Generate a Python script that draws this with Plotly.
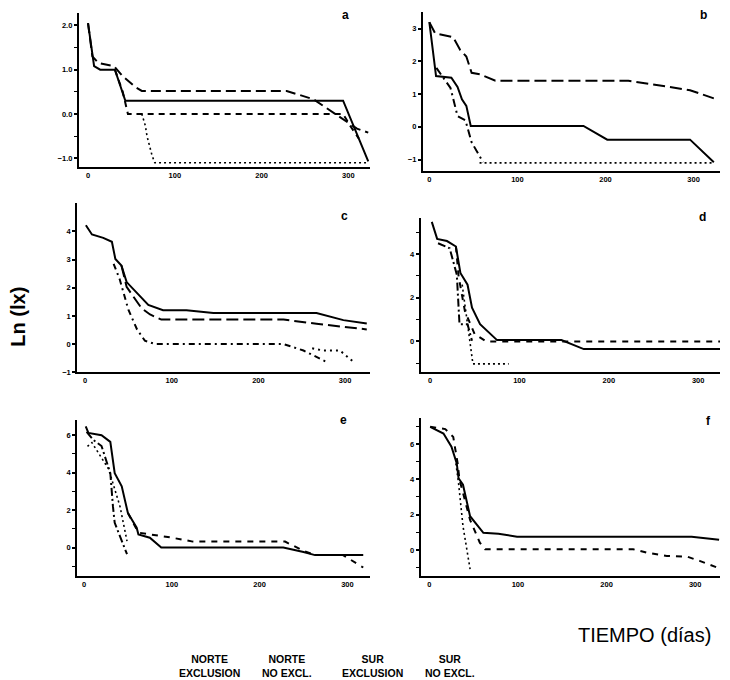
import plotly.graph_objects as go

W, H = 730, 680

# ---------------- survival curves: days vs Ln(lx) ----------------
# series keys: ne = NORTE EXCLUSION, nn = NORTE NO EXCL., se = SUR EXCLUSION, sn = SUR NO EXCL.

# panel a
a_ne_x = [0, 7, 14, 31, 43, 294, 323]
a_ne_y = [2.05, 1.08, 1.0, 1.0, 0.3, 0.3, -1.07]
a_nn_x = [0, 5, 12, 30, 40, 55, 62, 229, 260, 310, 323]
a_nn_y = [2.05, 1.3, 1.15, 1.08, 0.85, 0.6, 0.52, 0.52, 0.33, -0.33, -0.42]
a_se_x = [31, 40, 46, 294, 302, 312]
a_se_y = [1.0, 0.5, 0.0, 0.0, -0.26, -0.55]
a_sn_x = [56, 62, 66, 68, 74, 77, 323]
a_sn_y = [0.0, 0.0, -0.26, -0.5, -0.95, -1.1, -1.1]

# panel b
b_ne_x = [0, 7.6, 25, 32, 37, 42, 47, 175, 202, 296, 323]
b_ne_y = [3.2, 1.55, 1.5, 1.22, 0.84, 0.64, 0.03, 0.03, -0.39, -0.39, -1.08]
b_nn_x = [0, 6.5, 27, 35, 42, 48, 58, 75, 226, 270, 296, 323]
b_nn_y = [3.2, 2.86, 2.74, 2.35, 2.15, 1.65, 1.6, 1.41, 1.41, 1.22, 1.12, 0.87]
b_se_x = [8, 24, 32, 41, 48, 61]
b_se_y = [1.8, 1.19, 0.33, 0.2, -0.47, -1.08]
b_sn_x = [57, 323]
b_sn_y = [-1.1, -1.1]

# panel c
c_ne_x = [1, 8, 21, 31, 35, 42, 48, 60, 73, 90, 117, 148, 267, 298, 325]
c_ne_y = [4.22, 3.89, 3.77, 3.63, 3.02, 2.79, 2.2, 1.8, 1.39, 1.2, 1.2, 1.1, 1.1, 0.85, 0.73]
c_nn_x = [42, 48, 65, 75, 88, 229, 267, 325]
c_nn_y = [2.79, 2.03, 1.28, 1.05, 0.87, 0.87, 0.72, 0.52]
c_se_x = [33, 40, 50, 60, 69, 81, 229, 252, 279]
c_se_y = [2.85, 2.3, 1.22, 0.52, 0.12, 0.0, 0.0, -0.23, -0.64]
c_sn_x = [262, 275, 294, 310]
c_sn_y = [-0.15, -0.23, -0.23, -0.64]

# panel d
d_ne_x = [2, 8, 19, 29, 34, 42, 47, 56, 75, 147, 172, 325]
d_ne_y = [5.48, 4.7, 4.6, 4.35, 3.14, 2.6, 1.55, 0.79, 0.06, 0.06, -0.35, -0.35]
d_nn_x = [29, 32, 39, 50, 63, 325]
d_nn_y = [4.35, 2.98, 1.4, 0.33, 0.0, 0.0]
d_se_x = [9, 22, 30, 33, 42, 47]
d_se_y = [4.5, 4.27, 3.06, 0.79, 0.79, 0.03]
d_sn_x = [36, 41, 45, 48, 88]
d_sn_y = [2.6, 1.2, -0.12, -1.03, -1.03]

# panel e
e_ne_x = [2, 5, 20, 30, 35, 43, 50, 60, 62, 75, 88, 227, 250, 263, 318]
e_ne_y = [6.47, 6.12, 6.0, 5.64, 3.97, 3.27, 1.85, 1.06, 0.7, 0.53, 0.0, 0.0, -0.23, -0.4, -0.4]
e_nn_x = [50, 62, 87, 98, 124, 229, 250, 263, 295, 318]
e_nn_y = [1.85, 0.8, 0.62, 0.55, 0.32, 0.32, -0.17, -0.4, -0.4, -1.06]
e_se_x = [3, 11, 20, 30, 33, 35, 49]
e_se_y = [6.17, 5.73, 5.42, 3.97, 2.2, 1.32, -0.35]
e_sn_x = [4, 9, 28, 36, 41, 49]
e_sn_y = [5.4, 5.6, 4.2, 3.0, 2.2, 0.35]

# panel f
f_ne_x = [1, 16, 25, 31, 33, 38, 46, 61, 78, 99, 296, 327]
f_ne_y = [6.97, 6.59, 5.84, 4.9, 4.06, 3.69, 1.91, 0.97, 0.92, 0.75, 0.75, 0.57]
f_nn_x = [1, 18, 27, 32, 34, 46, 57, 63, 230, 245, 268, 291, 305, 325]
f_nn_y = [6.97, 6.84, 6.4, 4.9, 4.0, 1.7, 0.41, 0.04, 0.04, -0.15, -0.34, -0.38, -0.62, -1.0]
f_sn_x = [30, 33, 38, 46]
f_sn_y = [4.9, 3.78, 1.35, -1.08]

x_tick_vals = [0, 100, 200, 300]
panel_letters = ["a", "b", "c", "d", "e", "f"]
legend_labels = ["NORTE<br>EXCLUSION", "NORTE<br>NO EXCL.", "SUR<br>EXCLUSION", "SUR<br>NO EXCL."]
y_title = "Ln (lx)"
x_title = "TIEMPO (días)"

# ---------------- layout of the six panels (pixel boxes) ----------------
# left, right, top, bottom in page pixels; x range, y range, y tick step, y minor step,
# tick format, and where the panel letter sits (page pixels)
boxes = {
    "a": dict(px=(79, 370, 13, 168), xr=(-10.4, 325), yr=(-1.19, 2.28), dt=1, mdt=0.5, fmt=".1f", lab=(345, 15)),
    "b": dict(px=(423, 720, 11.7, 172), xr=(-7.2, 330), yr=(-1.34, 3.52), dt=1, mdt=None, fmt="d", lab=(703, 15)),
    "c": dict(px=(77.3, 370, 205, 375), xr=(-8.9, 328.7), yr=(-1.0, 4.99), dt=1, mdt=None, fmt="d", lab=(344, 218)),
    "d": dict(px=(420.7, 720, 219.3, 374.3), xr=(-10.4, 324.4), yr=(-1.38, 5.67), dt=2, mdt=1, fmt="d", lab=(702, 219)),
    "e": dict(px=(77.3, 370, 422.7, 580), xr=(-7.6, 325.7), yr=(-1.5, 6.83), dt=2, mdt=1, fmt="d", lab=(343, 423)),
    "f": dict(px=(420.7, 720, 420.7, 580), xr=(-9.7, 328), yr=(-1.46, 7.49), dt=2, mdt=1, fmt="d", lab=(708, 424)),
}

series = {
    "a": [(a_ne_x, a_ne_y, "solid"), (a_nn_x, a_nn_y, "10px,5px"),
          (a_se_x, a_se_y, "6px,5px"), (a_sn_x, a_sn_y, "2px,3px")],
    "b": [(b_ne_x, b_ne_y, "solid"), (b_nn_x, b_nn_y, "12px,5px"),
          (b_se_x, b_se_y, "8px,4px,2px,4px"), (b_sn_x, b_sn_y, "2px,3px")],
    "c": [(c_ne_x, c_ne_y, "solid"), (c_nn_x, c_nn_y, "12px,5px"),
          (c_se_x, c_se_y, "6px,4px,2px,4px"), (c_sn_x, c_sn_y, "2px,4px")],
    "d": [(d_ne_x, d_ne_y, "solid"), (d_nn_x, d_nn_y, "6px,6px"),
          (d_se_x, d_se_y, "8px,3px,2px,3px"), (d_sn_x, d_sn_y, "2px,3px")],
    "e": [(e_ne_x, e_ne_y, "solid"), (e_nn_x, e_nn_y, "6px,6px"),
          (e_se_x, e_se_y, "8px,3px,2px,3px"), (e_sn_x, e_sn_y, "2px,3px")],
    "f": [(f_ne_x, f_ne_y, "solid"), (f_nn_x, f_nn_y, "6px,6px"),
          (f_sn_x, f_sn_y, "2px,3px")],
}

FONT = "Liberation Sans, Arial, sans-serif"

fig = go.Figure()
layout = dict(
    width=W, height=H,
    margin=dict(l=0, r=0, t=0, b=0),
    paper_bgcolor="white", plot_bgcolor="rgba(0,0,0,0)",
    showlegend=False,
    font=dict(family=FONT, color="black"),
)

tick_font = dict(family=FONT, size=7.5, color="black", weight="bold")
annotations = []

for i, key in enumerate(panel_letters):
    n = "" if i == 0 else str(i + 1)
    b = boxes[key]
    l, r, t, btm = b["px"]
    xa = dict(
        domain=[l / W, r / W], range=list(b["xr"]), anchor="y" + n,
        showline=True, linecolor="black", linewidth=2.2, showgrid=False, zeroline=False,
        tickmode="array", tickvals=x_tick_vals, ticks="", tickfont=tick_font,
    )
    ya = dict(
        domain=[1 - btm / H, 1 - t / H], range=list(b["yr"]), anchor="x" + n,
        showline=True, linecolor="black", linewidth=2.2, showgrid=False, zeroline=False,
        tickmode="linear", tick0=0, dtick=b["dt"], tickformat=b["fmt"],
        ticks="outside", ticklen=3, tickwidth=1.5, tickcolor="black", tickfont=tick_font,
    )
    if b["mdt"]:
        ya["minor"] = dict(dtick=b["mdt"], tick0=0, ticks="outside", ticklen=3,
                           tickwidth=1.2, tickcolor="black")
    layout["xaxis" + n] = xa
    layout["yaxis" + n] = ya

    for xs, ys, dash in series[key]:
        fig.add_trace(go.Scatter(
            x=xs, y=ys, mode="lines", xaxis="x" + n, yaxis="y" + n,
            line=dict(color="black", width=2 if dash != "2px,3px" else 1.6, dash=dash),
            hoverinfo="skip",
        ))

    lx, ly = b["lab"]
    annotations.append(dict(
        text=key, xref="paper", yref="paper", x=lx / W, y=1 - ly / H,
        xanchor="center", yanchor="middle", showarrow=False,
        font=dict(size=12, weight="bold", color="black", family=FONT),
    ))

# axis titles
annotations.append(dict(
    text=y_title, xref="paper", yref="paper", x=18 / W, y=1 - 319 / H,
    textangle=-90, showarrow=False, xanchor="center", yanchor="middle",
    font=dict(size=20, weight="bold", color="black", family=FONT),
))
annotations.append(dict(
    text=x_title, xref="paper", yref="paper", x=713 / W, y=1 - 640 / H,
    showarrow=False, xanchor="right", yanchor="middle",
    font=dict(size=20, color="black", family=FONT),
))

# bottom key labels
for cx, txt in zip([209, 287, 373, 450], legend_labels):
    annotations.append(dict(
        text=txt, xref="paper", yref="paper", x=cx / W, y=1 - 671 / H,
        showarrow=False, xanchor="center", yanchor="middle", align="center",
        font=dict(size=10.5, weight="bold", color="black", family=FONT),
    ))

layout["annotations"] = annotations
fig.update_layout(**layout)
fig.write_html("out.html")
